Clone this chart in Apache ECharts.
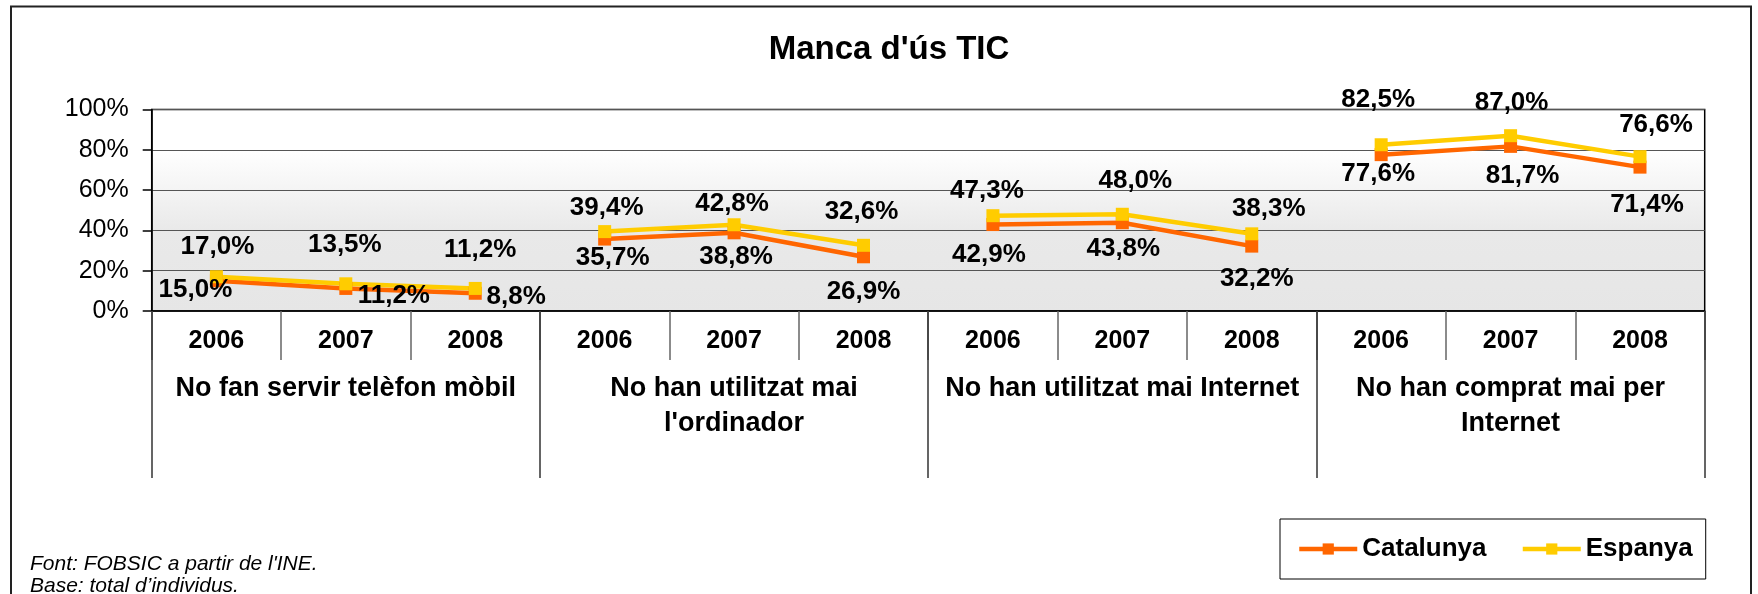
<!DOCTYPE html>
<html>
<head>
<meta charset="utf-8">
<script src="https://cdn.jsdelivr.net/npm/echarts@6/dist/echarts.min.js"></script>
<style>
  html, body { margin: 0; padding: 0; background: #fff; }
  #main { width: 1758px; height: 594px; }
</style>
</head>
<body>
<div id="main"></div>
<script>
// dades
var years = ['2006', '2007', '2008', '2006', '2007', '2008', '2006', '2007', '2008', '2006', '2007', '2008'];
var groups = ['No fan servir telèfon mòbil', 'No han utilitzat mai\nl\'ordinador', 'No han utilitzat mai Internet', 'No han comprat mai per\nInternet'];
var catalunya = [15.0, 11.2, 8.8, 35.7, 38.8, 26.9, 42.9, 43.8, 32.2, 77.6, 81.7, 71.4];
var espanya = [17.0, 13.5, 11.2, 39.4, 42.8, 32.6, 47.3, 48.0, 38.3, 82.5, 87.0, 76.6];
var yTicks = [0, 20, 40, 60, 80, 100];

// posicio de les etiquetes respecte al marcador (px)
var offCat = [[-21, 9], [48, 7], [41, 4], [8, 19], [2, 24], [0, 35], [-4, 30], [1, 26], [5, 33], [-3, 19], [12, 29], [7, 38]];
var offEsp = [[1, -30], [-1, -39], [5, -39], [2, -24], [-2, -21], [-2, -33], [-6, -25], [13, -33], [17, -25], [-3, -45], [1, -33], [16, -32]];

var FONT = "'Liberation Sans', Arial, sans-serif";
var colCat = '#FF6600';
var colEsp = '#FFCC00';

function fmt(v) {
  return v.toFixed(1).replace('.', ',') + '%';
}

// una serie per grup, aixi la linia es talla entre grups
function buildSeries(name, values, offsets, color) {
  var out = [];
  for (var g = 0; g < groups.length; g++) {
    var data = values.map(function (v, i) {
      if (Math.floor(i / 3) !== g) return '-';
      return { value: v, label: { offset: offsets[i] } };
    });
    out.push({
      name: name,
      type: 'line',
      data: data,
      symbol: 'rect',
      symbolSize: 13,
      connectNulls: false,
      itemStyle: { color: color },
      lineStyle: { color: color, width: 4.5 },
      label: {
        show: true,
        position: 'inside',
        color: '#000',
        fontFamily: FONT,
        fontWeight: 'bold',
        fontSize: 26,
        formatter: function (p) { return fmt(p.value); }
      },
      emphasis: { disabled: true },
      animation: false
    });
  }
  return out;
}

var myChart = echarts.init(document.getElementById('main'));

var option = {
  animation: false,
  graphic: [
    {
      type: 'rect',
      shape: { x: 11, y: 6.5, width: 1740, height: 620 },
      style: { fill: 'none', stroke: '#222', lineWidth: 2 },
      silent: true
    },
    {
      type: 'text',
      x: 889, y: 50,
      style: {
        text: "Manca d'ús TIC",
        font: 'bold 33px ' + FONT,
        fill: '#000',
        textAlign: 'center',
        textVerticalAlign: 'middle'
      }
    },
    {
      type: 'text',
      x: 30, y: 564,
      style: {
        text: "Font: FOBSIC a partir de l'INE.",
        font: 'italic 21px ' + FONT,
        fill: '#000',
        textVerticalAlign: 'middle'
      }
    },
    {
      type: 'text',
      x: 30, y: 586,
      style: {
        text: 'Base: total d’individus.',
        font: 'italic 21px ' + FONT,
        fill: '#000',
        textVerticalAlign: 'middle'
      }
    }
  ],
  legend: {
    data: ['Catalunya', 'Espanya'],
    left: 1280,
    top: 519,
    orient: 'horizontal',
    padding: [17, 13, 17, 17],
    itemGap: 34,
    itemWidth: 58,
    itemHeight: 14,
    borderColor: '#000',
    borderWidth: 1,
    backgroundColor: '#fff',
    lineStyle: { width: 4.5 },
    textStyle: { fontFamily: FONT, fontWeight: 'bold', fontSize: 26, color: '#000', lineHeight: 26 }
  },
  grid: {
    left: 151.7,
    right: 53.3,
    top: 109.5,
    bottom: 283,
    show: true,
    borderColor: '#000',
    borderWidth: 1.5,
    backgroundColor: new echarts.graphic.LinearGradient(0, 0, 0, 1, [
      { offset: 0, color: '#ffffff' },
      { offset: 0.2, color: '#ffffff' },
      { offset: 0.6, color: '#e9e9e9' },
      { offset: 1, color: '#e6e6e6' }
    ])
  },
  xAxis: [
    {
      type: 'category',
      data: years,
      position: 'bottom',
      boundaryGap: true,
      axisLine: { show: true, lineStyle: { color: '#000', width: 1.5 } },
      axisTick: { show: true, interval: 0, length: 49, lineStyle: { color: '#666', width: 1.5 } },
      axisLabel: {
        interval: 0,
        margin: 18,
        color: '#000',
        fontFamily: FONT,
        fontWeight: 'bold',
        fontSize: 25
      },
      splitLine: { show: false }
    },
    {
      type: 'category',
      data: groups,
      position: 'bottom',
      boundaryGap: true,
      axisLine: { show: false },
      axisTick: { show: true, interval: 0, length: 167, lineStyle: { color: '#333', width: 1.5 } },
      axisLabel: {
        interval: 0,
        margin: 60,
        color: '#000',
        fontFamily: FONT,
        fontWeight: 'bold',
        fontSize: 27,
        lineHeight: 35,
        align: 'center'
      },
      splitLine: { show: false }
    }
  ],
  yAxis: {
    type: 'value',
    min: yTicks[0],
    max: yTicks[yTicks.length - 1],
    interval: 20,
    axisLine: { show: true, lineStyle: { color: '#000', width: 1.5 } },
    axisTick: { show: true, length: 9, lineStyle: { color: '#000', width: 1.5 } },
    axisLabel: {
      margin: 23,
      color: '#000',
      fontFamily: FONT,
      fontSize: 25,
      formatter: '{value}%'
    },
    splitLine: { show: true, lineStyle: { color: '#555', width: 1.2 } }
  },
  series: buildSeries('Catalunya', catalunya, offCat, colCat)
    .concat(buildSeries('Espanya', espanya, offEsp, colEsp))
};

myChart.setOption(option);
</script>
</body>
</html>
